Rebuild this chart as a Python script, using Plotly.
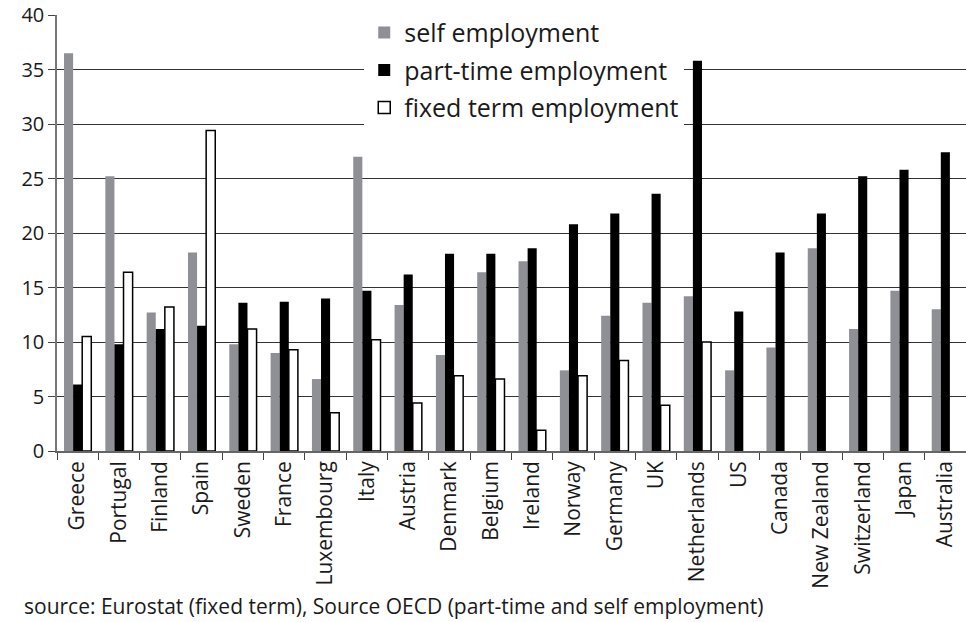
import plotly.graph_objects as go

countries = ["Greece", "Portugal", "Finland", "Spain", "Sweden", "France", "Luxembourg",
             "Italy", "Austria", "Denmark", "Belgium", "Ireland", "Norway", "Germany", "UK",
             "Netherlands", "US", "Canada", "New Zealand", "Switzerland", "Japan", "Australia"]
self_emp = [36.5, 25.2, 12.7, 18.2, 9.8, 9.0, 6.6, 27.0, 13.4, 8.8, 16.4, 17.4, 7.4, 12.4,
            13.6, 14.2, 7.4, 9.5, 18.6, 11.2, 14.7, 13.0]
part_time = [6.1, 9.8, 11.2, 11.5, 13.6, 13.7, 14.0, 14.7, 16.2, 18.1, 18.1, 18.6, 20.8, 21.8,
             23.6, 35.8, 12.8, 18.2, 21.8, 25.2, 25.8, 27.4]
fixed_term = [10.5, 16.4, 13.2, 29.4, 11.2, 9.3, 3.5, 10.2, 4.4, 6.9, 6.6, 1.9, 6.9, 8.3,
              4.2, 10.0, None, None, None, None, None, None]
y_ticks = [0, 5, 10, 15, 20, 25, 30, 35, 40]

FONT = "Open Sans"

fig = go.Figure()
fig.add_trace(go.Bar(name="self employment", x=countries, y=self_emp,
                     marker=dict(color="#8f9095", line=dict(width=0)), legendgroup="a"))
fig.add_trace(go.Bar(name="part-time employment", x=countries, y=part_time,
                     marker=dict(color="#000000", line=dict(width=0)), legendgroup="b"))
fig.add_trace(go.Bar(name="fixed term employment", x=countries, y=fixed_term,
                     marker=dict(color="#ffffff", line=dict(color="#000000", width=1.5)),
                     legendgroup="c"))

fig.update_layout(
    width=966, height=622,
    margin=dict(l=57, r=0, t=15, b=171),
    paper_bgcolor="white", plot_bgcolor="white",
    barmode="group", bargap=0.34, bargroupgap=0,
    font=dict(family=FONT, color="#1a1a1a", size=21),
    showlegend=True,
    legend=dict(x=0.338, y=1.012, xanchor="left", yanchor="top",
                bgcolor="white", borderwidth=0,
                font=dict(family=FONT, size=25, color="#1a1a1a"),
                tracegroupgap=2, itemwidth=30),
    xaxis=dict(type="category", tickangle=-90, showgrid=False,
               showline=True, linecolor="#666", linewidth=1.5,
               ticks="outside", tickson="boundaries", ticklen=7, tickcolor="#444",
               tickfont=dict(family=FONT, size=21, color="#1a1a1a")),
    yaxis=dict(range=[0, 40], tickvals=y_ticks, ticktext=[str(v) for v in y_ticks],
               showgrid=True, gridcolor="#333", gridwidth=1,
               showline=True, linecolor="#777", linewidth=1.5,
               ticks="outside", ticklen=7, tickcolor="#444",
               zeroline=False,
               tickfont=dict(family=FONT, size=20, color="#1a1a1a")),
)

fig.add_annotation(text="source: Eurostat (fixed term), Source OECD (part-time and self employment)",
                   xref="paper", yref="paper", x=-0.038, y=-0.355, xanchor="left", yanchor="middle",
                   showarrow=False, font=dict(family=FONT, size=21, color="#1a1a1a"))

fig.write_html("out.html")
